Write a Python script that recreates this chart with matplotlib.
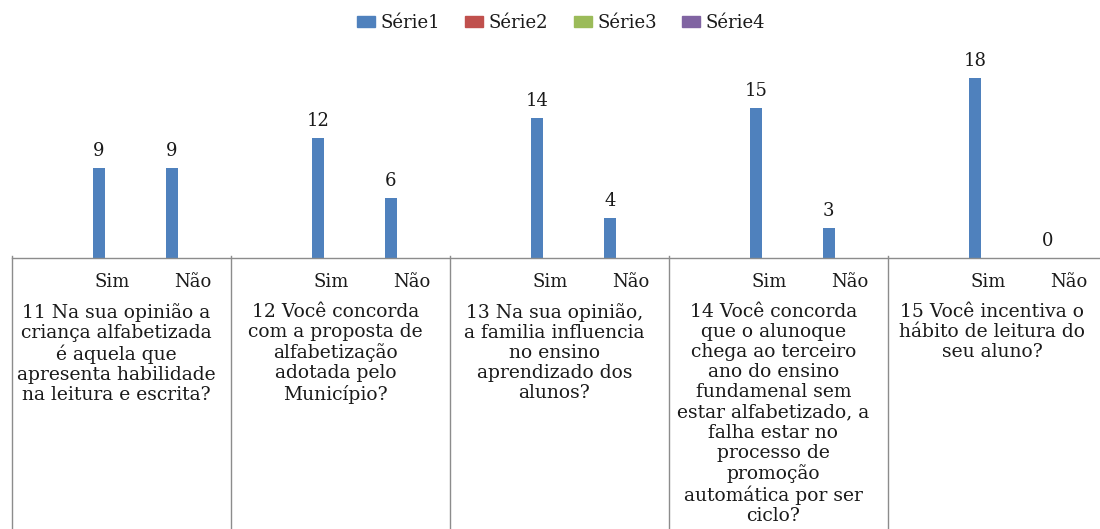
import matplotlib.pyplot as plt
from matplotlib.patches import Patch

plt.rcParams["font.family"] = ["DejaVu Serif"]

# ---- data ------------------------------------------------------------------
questions = [
    "11 Na sua opinião a\ncriança alfabetizada\né aquela que\napresenta habilidade\nna leitura e escrita?",
    "12 Você concorda\ncom a proposta de\nalfabetização\nadotada pelo\nMunicípio?",
    "13 Na sua opinião,\na familia influencia\nno ensino\naprendizado dos\nalunos?",
    "14 Você concorda\nque o alunoque\nchega ao terceiro\nano do ensino\nfundamenal sem\nestar alfabetizado, a\nfalha estar no\nprocesso de\npromoção\nautomática por ser\nciclo?",
    "15 Você incentiva o\nhábito de leitura do\nseu aluno?",
]
answers = ["Sim", "Não"]
sim = [9, 12, 14, 15, 18]
nao = [9, 6, 4, 3, 0]
series = ["Série1", "Série2", "Série3", "Série4"]
colors = ["#4F81BD", "#C0504D", "#9BBB59", "#8064A2"]
GRID = "#8c8c8c"
TXT = "#1a1a1a"

fig = plt.figure(figsize=(11, 5.29), dpi=100)
# axes spans the five question boxes; the last box runs past the right edge
ax = fig.add_axes([12 / 1100, 271 / 529, 1095 / 1100, 200 / 529])
ax.set_xlim(0, 5)
ax.set_ylim(0, 20)
ax.axis("off")

sim_x = [g + 0.397 for g in range(len(questions))]
nao_x = [g + 0.73 for g in range(len(questions))]
bw = 0.055
ax.bar(sim_x, sim, width=bw, color=colors[0])
ax.bar(nao_x, nao, width=bw, color=colors[0])
for x, v in zip(sim_x + nao_x, sim + nao):
    ax.text(x, v + 1.2, f"{v}", ha="center", va="baseline", fontsize=13, color=TXT)

# category axis "table"
ax.plot([0, 5], [0, 0], color=GRID, lw=1, clip_on=False)
for g in range(len(questions) + 1):
    ax.plot([g, g], [0.25, -28], color=GRID, lw=1, clip_on=False)
for g, q in enumerate(questions):
    ax.text(g + 0.457, -2.9, answers[0], ha="center", va="baseline", fontsize=13, color=TXT)
    ax.text(g + 0.824, -2.9, answers[1], ha="center", va="baseline", fontsize=13, color=TXT)
    ax.text(g + 0.477, -4.5, q, ha="center", va="top", fontsize=13.5,
            linespacing=1.15, multialignment="center", color=TXT)

fig.legend(handles=[Patch(color=c, label=s) for c, s in zip(colors, series)],
           loc="center", bbox_to_anchor=(561 / 1100, 1 - 23 / 529), ncol=4,
           frameon=False, fontsize=13, handlelength=1.0, handleheight=0.6,
           handletextpad=0.3, columnspacing=1.4, labelcolor=TXT)

fig.savefig("out.png", dpi=100)
